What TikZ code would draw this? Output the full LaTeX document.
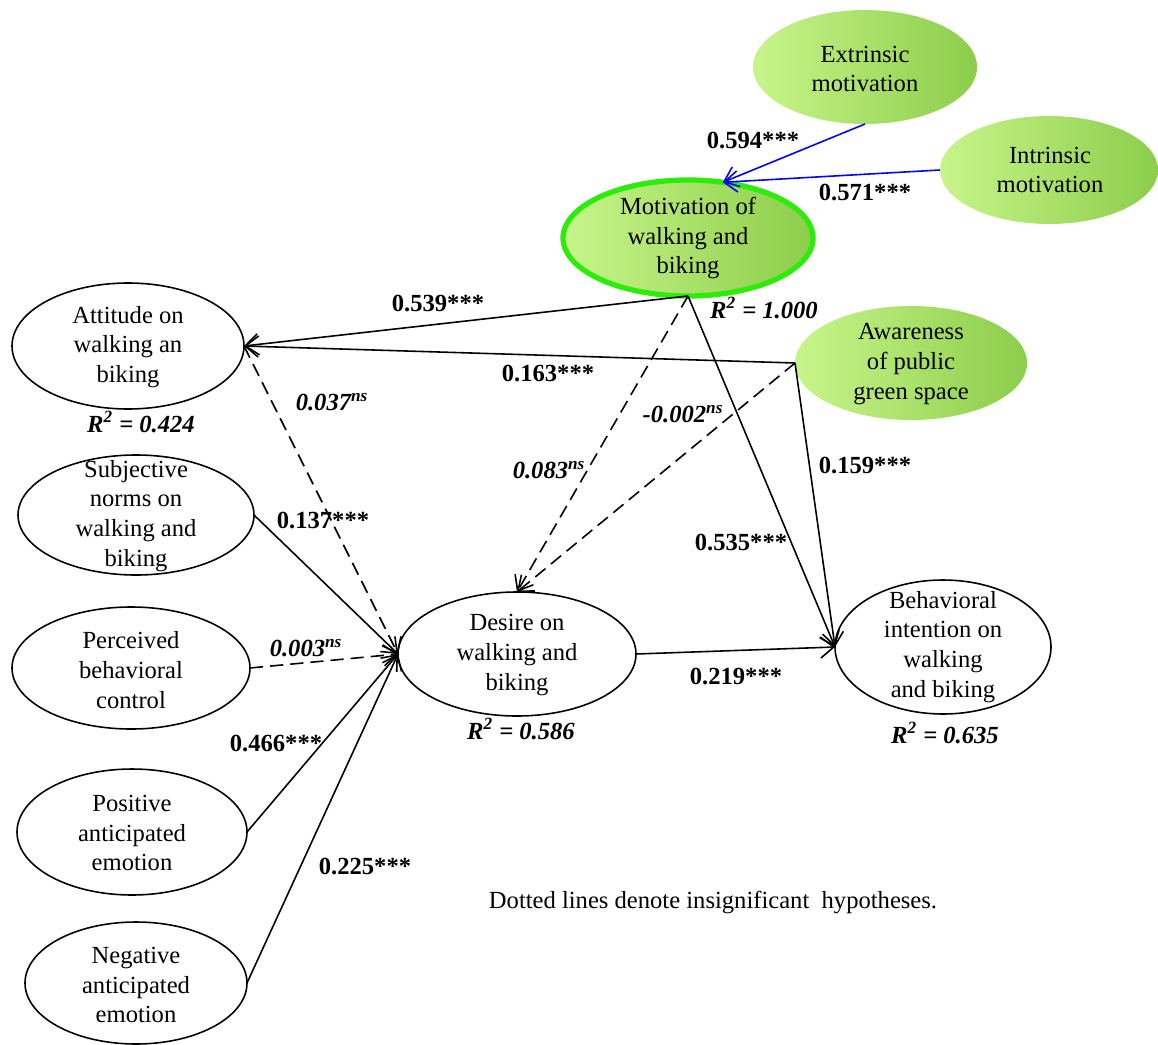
\documentclass[tikz,border=0pt]{standalone}
\usepackage{fontspec}
\setmainfont{Liberation Serif}
\usetikzlibrary{shapes.geometric,arrows.meta}
\definecolor{gLight}{RGB}{200,245,138}
\definecolor{gDark}{RGB}{140,205,75}
\definecolor{gBorder}{RGB}{45,235,10}
\newlength\upx
\setlength\upx{0.02cm}
\begin{document}
\begin{tikzpicture}[x=0.02cm,y=-0.02cm,
  ell/.style={ellipse, draw=black, line width=0.9pt, inner sep=0pt, outer sep=0pt},
  gell/.style={ellipse, draw=none, left color=gLight, right color=gDark, inner sep=0pt, outer sep=0pt},
  txt/.style={align=center, font=\fontsize{14}{17}\selectfont, inner sep=0pt},
  lab/.style={font=\fontsize{14}{17}\selectfont\bfseries, inner sep=0pt},
  conn/.style={draw=black, line width=0.9pt, -{Straight Barb[length=7.5pt,width=12pt,line width=0.9pt]}},
  dconn/.style={conn, dash pattern=on 7.5pt off 4pt},
  bconn/.style={conn, draw=blue, -{Straight Barb[length=7.5pt,width=12pt,line width=0.9pt]}}]
\useasboundingbox (0,0) rectangle (1158,1044);

% green ellipses
\node[gell, minimum width=224\upx, minimum height=114\upx] (ext) at (865,67) {};
\node[txt] (extT) at (865,69) {Extrinsic\\motivation};
\node[gell, minimum width=218\upx, minimum height=108\upx] (intr) at (1049,170) {};
\node[txt] (intrT) at (1050,170) {Intrinsic\\motivation};
\node[gell, draw=gBorder, line width=3pt, minimum width=250\upx, minimum height=116\upx] (mot) at (688,238) {};
\node[txt] (motT) at (688,238) {Motivation of\\walking and\\biking};
\node[gell, minimum width=232\upx, minimum height=114\upx] (awe) at (911,363) {};
\node[txt] (aweT) at (911,364) {Awareness\\of public\\green space};

% white ellipses
\node[ell, minimum width=232\upx, minimum height=126\upx] (att) at (128,346) {};
\node[txt] (attT) at (128,347) {Attitude on\\walking an\\biking};
\node[ell, minimum width=236\upx, minimum height=120\upx] (sub) at (136,515) {};
\node[txt] (subT) at (136,516) {Subjective\\norms on\\walking and\\biking};
\node[ell, minimum width=238\upx, minimum height=122\upx] (per) at (131,668) {};
\node[txt] (perT) at (131,670) {Perceived\\behavioral\\control};
\node[ell, minimum width=230\upx, minimum height=126\upx] (pos) at (132,832) {};
\node[txt] (posT) at (132,833) {Positive\\anticipated\\emotion};
\node[ell, minimum width=222\upx, minimum height=122\upx] (neg) at (136,983) {};
\node[txt] (negT) at (136,985) {Negative\\anticipated\\emotion};
\node[ell, minimum width=238\upx, minimum height=124\upx] (des) at (517,654) {};
\node[txt] (desT) at (517,655) {Desire on\\walking and\\biking};
\node[ell, minimum width=216\upx, minimum height=134\upx] (beh) at (943,647) {};
\node[txt] (behT) at (943,647) {Behavioral\\intention on\\walking\\and biking};

% connectors
\draw[bconn] (ext.south) -- (mot.58);
\draw[bconn] (intr.west) -- (mot.58);
\draw[conn] (mot.south) -- (att.east);
\draw[conn] (awe.west) -- (att.east);
\draw[dconn] (att.east) -- (des.west);
\draw[conn] (sub.east) -- (des.west);
\draw[dconn] (per.east) -- (des.west);
\draw[conn] (pos.east) -- (des.west);
\draw[conn] (neg.east) -- (des.west);
\draw[dconn] (mot.south) -- (des.north);
\draw[dconn] (awe.west) -- (des.north);
\draw[conn] (mot.south) -- (beh.west);
\draw[conn] (awe.west) -- (beh.west);
\draw[conn] (des.east) -- (beh.west);

% labels
\node[lab] (l1) at (753,140) {0.594***};
\node[lab] (l2) at (865,192) {0.571***};
\node[lab] (l3) at (438,303) {0.539***};
\node[lab] (l4) at (548,373) {0.163***};
\node[lab] (l5) at (332,402) {\itshape 0.037\textsuperscript{ns}};
\node[lab] (l6) at (549,470) {\itshape 0.083\textsuperscript{ns}};
\node[lab] (l7) at (683,414) {\itshape -0.002\textsuperscript{ns}};
\node[lab] (l8) at (865,465) {0.159***};
\node[lab] (l9) at (323,520) {0.137***};
\node[lab] (l10) at (741,542) {0.535***};
\node[lab] (l11) at (306,648) {\itshape 0.003\textsuperscript{ns}};
\node[lab] (l12) at (736,676) {0.219***};
\node[lab] (l13) at (276,743) {0.466***};
\node[lab] (l14) at (365,866) {0.225***};

\node[lab] (r1) at (764,308) {\itshape R\textsuperscript{2} = 1.000};
\node[lab] (r2) at (141,422) {\itshape R\textsuperscript{2} = 0.424};
\node[lab] (r3) at (521,729) {\itshape R\textsuperscript{2} = 0.586};
\node[lab] (r4) at (945,733) {\itshape R\textsuperscript{2} = 0.635};

\node[txt] (note) at (713,902) {Dotted lines denote insignificant\ \ hypotheses.};
\end{tikzpicture}
\end{document}
